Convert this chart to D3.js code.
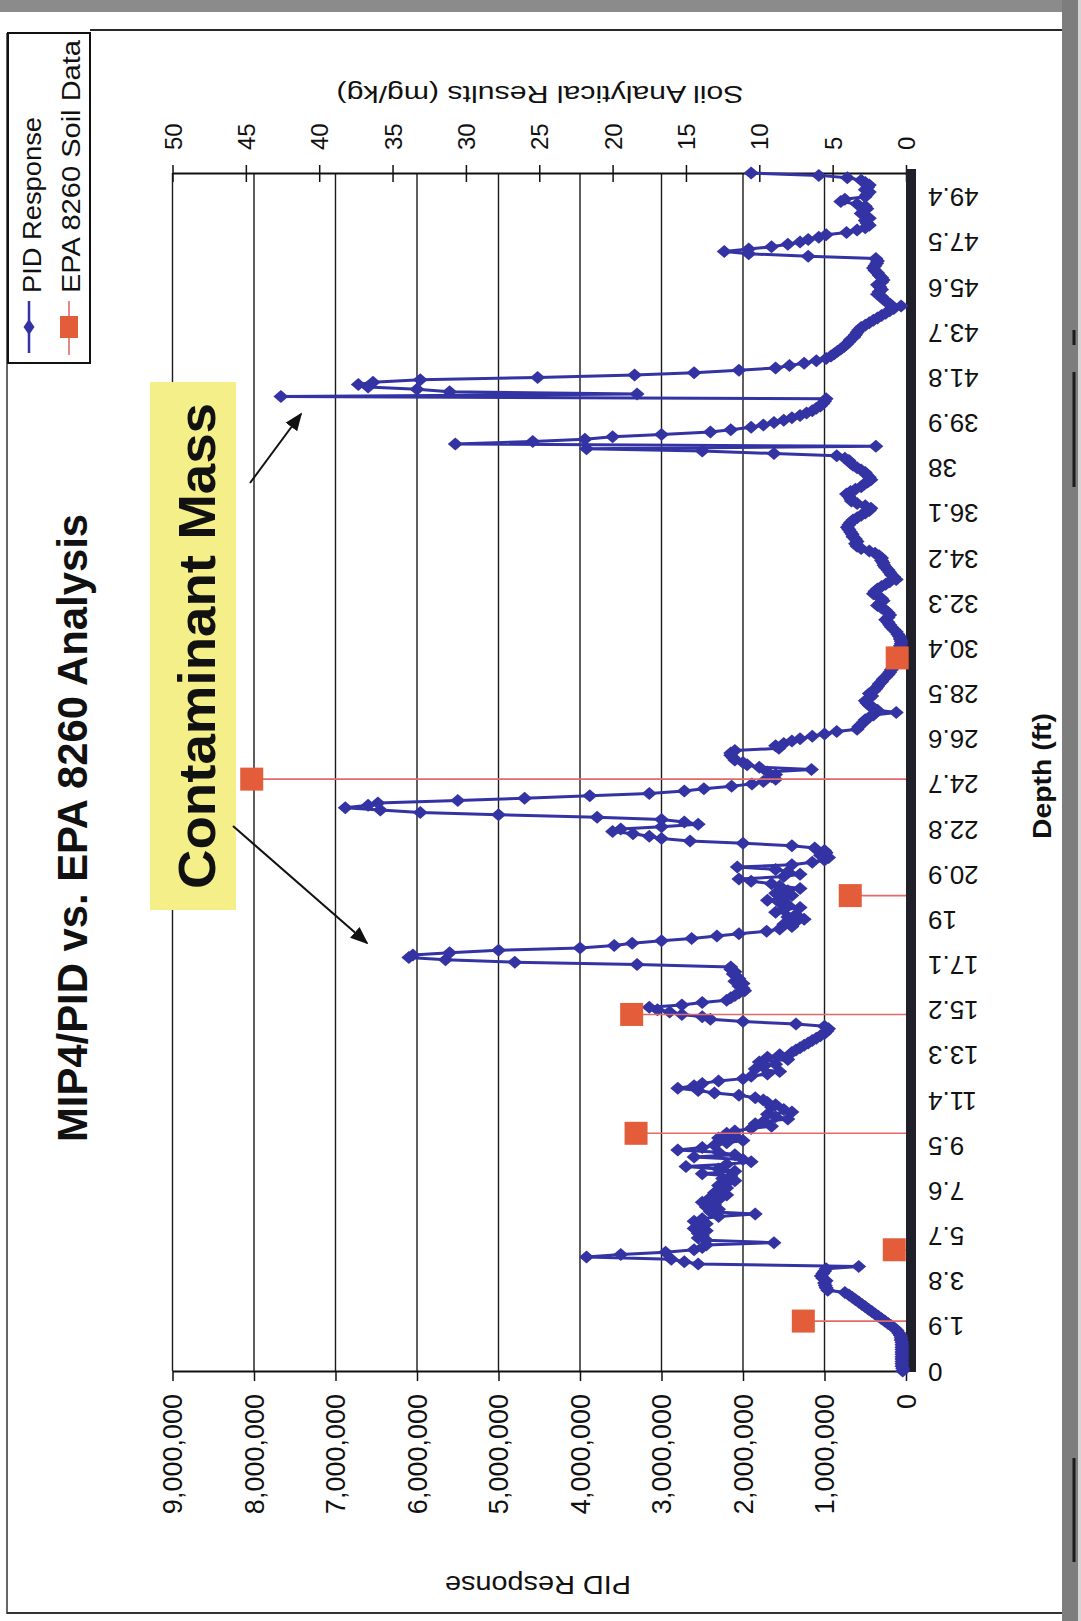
<!DOCTYPE html>
<html>
<head>
<meta charset="utf-8">
<script src="https://cdn.jsdelivr.net/npm/d3@7"></script>
<style>
  html, body { margin: 0; padding: 0; background: #fff; }
  svg { display: block; }
  text { font-family: "Liberation Sans", Arial, Helvetica, sans-serif; fill: #111; }
</style>
</head>
<body>
<svg id="chart" width="1081" height="1621"></svg>
<script>
// PID response (millions of counts), one row per foot of depth, readings every 0.1 ft
const pidRows = [
  [0.04,0.04,0.05,0.05,0.05,0.05,0.05,0.05,0.05,0.05], // 0 ft
  [0.05,0.05,0.05,0.06,0.06,0.07,0.09,0.11,0.14,0.18], // 1
  [0.22,0.26,0.30,0.34,0.38,0.42,0.46,0.50,0.54,0.58], // 2
  [0.62,0.66,0.70,0.75,0.96,0.98,0.99,1.00,0.98,1.02], // 3
  [1.04,1.02,1.00,0.98,0.58,2.55,2.72,2.88,3.92,3.50], // 4
  [2.95,2.60,2.50,2.45,1.62,2.45,2.55,2.50,2.55,2.45], // 5
  [2.60,2.55,2.45,2.60,2.50,2.30,1.85,2.40,2.30,2.45], // 6
  [2.35,2.50,2.30,2.40,2.20,2.35,2.25,2.20,2.30,2.20], // 7
  [2.10,2.25,2.15,2.50,2.10,2.30,2.70,2.20,1.90,2.00], // 8
  [2.60,2.10,2.30,2.80,2.50,2.35,2.20,2.00,2.30,2.10], // 9
  [2.20,2.10,1.90,1.65,1.85,1.75,1.45,1.60,1.70,1.40], // 10
  [1.50,1.65,1.60,1.70,1.75,1.85,2.05,2.35,2.55,2.80], // 11
  [2.60,2.50,2.30,2.00,1.90,1.70,1.55,1.85,1.75,1.60], // 12
  [1.80,1.45,1.70,1.55,1.40,1.35,1.30,1.25,1.20,1.15], // 13
  [1.10,1.05,1.00,0.97,0.95,1.00,1.35,2.00,2.40,2.50], // 14
  [2.75,2.90,3.05,3.15,2.75,2.50,2.20,2.15,2.10,2.05], // 15
  [1.98,2.00,2.05,2.00,2.10,2.05,2.08,2.12,2.10,2.15], // 16
  [2.15,3.30,4.80,5.65,6.10,6.05,5.60,5.00,4.00,3.58], // 17
  [3.36,3.00,2.63,2.32,2.05,1.71,1.55,1.40,1.50,1.35], // 18
  [1.25,1.45,1.35,1.60,1.50,1.30,1.45,1.55,1.70,1.50], // 19
  [1.40,1.60,1.45,1.30,1.55,1.65,1.90,2.05,1.50,1.30], // 20
  [1.45,1.60,2.07,1.40,1.15,1.00,0.95,1.05,0.98,1.00], // 21
  [1.12,1.40,2.00,2.65,3.00,3.15,3.35,3.60,3.50,3.00], // 22
  [2.55,2.72,3.00,3.79,5.00,5.96,6.45,6.88,6.60,6.48], // 23
  [5.50,4.68,3.88,3.15,2.72,2.48,2.14,1.89,1.75,1.60], // 24
  [1.65,1.60,1.70,1.16,1.80,1.95,2.00,2.10,2.12,2.15], // 25
  [2.15,2.10,1.56,1.60,1.50,1.40,1.30,1.15,1.00,0.85], // 26
  [0.60,0.58,0.55,0.52,0.50,0.45,0.40,0.12,0.35,0.40], // 27
  [0.45,0.48,0.50,0.45,0.42,0.45,0.40,0.37,0.35,0.33], // 28
  [0.30,0.28,0.25,0.22,0.20,0.18,0.16,0.14,0.15,0.12], // 29
  [0.10,0.10,0.08,0.07,0.08,0.07,0.06,0.06,0.07,0.08], // 30
  [0.10,0.12,0.15,0.18,0.20,0.22,0.25,0.22,0.20,0.22], // 31
  [0.25,0.30,0.35,0.32,0.28,0.30,0.35,0.40,0.38,0.35], // 32
  [0.30,0.25,0.20,0.12,0.15,0.18,0.20,0.22,0.25,0.27], // 33
  [0.28,0.30,0.30,0.33,0.38,0.45,0.55,0.60,0.62,0.60], // 34
  [0.62,0.65,0.66,0.68,0.70,0.72,0.70,0.68,0.65,0.60], // 35
  [0.55,0.50,0.45,0.43,0.50,0.60,0.67,0.68,0.70,0.73], // 36
  [0.68,0.62,0.55,0.52,0.47,0.43,0.45,0.48,0.50,0.55], // 37
  [0.60,0.65,0.68,0.70,0.75,0.85,1.62,2.50,3.92,0.37], // 38
  [5.53,4.58,3.94,3.60,3.00,2.40,2.15,1.90,1.75,1.62], // 39
  [1.50,1.40,1.30,1.22,1.15,1.10,1.05,1.02,1.00,0.98], // 40
  [7.67,3.30,5.60,6.00,6.60,6.72,6.54,5.96,4.52,3.33], // 41
  [2.60,2.05,1.60,1.43,1.25,1.10,0.98,0.92,0.88,0.84], // 42
  [0.80,0.76,0.73,0.70,0.68,0.64,0.62,0.60,0.58,0.55], // 43
  [0.50,0.45,0.40,0.35,0.30,0.25,0.20,0.15,0.06,0.20], // 44
  [0.25,0.28,0.30,0.35,0.33,0.30,0.32,0.35,0.30,0.28], // 45
  [0.30,0.33,0.35,0.38,0.40,0.38,0.36,0.35,0.37,1.20], // 46
  [1.93,2.23,1.93,1.65,1.45,1.30,1.20,1.07,0.98,0.73], // 47
  [0.60,0.50,0.45,0.48,0.50,0.45,0.50,0.55,0.52,0.48], // 48
  [0.50,0.60,0.80,0.75,0.50,0.48,0.45,0.50,0.47,0.45], // 49
  [0.50,0.55,0.72,1.07,1.90]                           // 50
];

// EPA 8260 soil samples: depth (ft) and result (mg/kg)
const soilDepths = [2.1, 5.1, 10, 15, 20, 24.9, 30];
const soilValues = [7.0, 0.8, 18.4, 18.7, 3.8, 44.6, 0.6];

// axis ticks
const pidTicks = [0, 1e6, 2e6, 3e6, 4e6, 5e6, 6e6, 7e6, 8e6, 9e6];
const soilTicks = [0, 5, 10, 15, 20, 25, 30, 35, 40, 45, 50];
const depthTicks = [0, 1.9, 3.8, 5.7, 7.6, 9.5, 11.4, 13.3, 15.2, 17.1, 19, 20.9, 22.8,
  24.7, 26.6, 28.5, 30.4, 32.3, 34.2, 36.1, 38, 39.9, 41.8, 43.7, 45.6, 47.5, 49.4];

const pidData = pidRows.flatMap((row, ft) =>
  row.map((v, j) => ({ depth: +(ft + j / 10).toFixed(1), value: v * 1e6 })));
const soilData = soilDepths.map((d, i) => ({ depth: d, value: soilValues[i] }));

const svg = d3.select("#chart");
const BLUE = "#3333a4", RED = "#e35d3a", REDLINE = "#e26a6a";

// plot frame (chart is laid out with depth running up the page)
const plot = { left: 172.5, right: 906, top: 173, bottom: 1371 };
const x = d3.scaleLinear().domain([0, 9e6]).range([plot.right, plot.left]);
const xs = d3.scaleLinear().domain([0, 50]).range([plot.right, plot.left]);
const y = d3.scaleLinear().domain([0, 50.4]).range([plot.bottom, plot.top]);

// page edge / border
svg.append("rect").attr("x", 0).attr("y", 0).attr("width", 1081).attr("height", 12).attr("fill", "#8b8b8b");
svg.append("rect").attr("x", 1062).attr("y", 0).attr("width", 16).attr("height", 1621).attr("fill", "#7d7d7d");
svg.append("rect").attr("x", 1078).attr("y", 0).attr("width", 3).attr("height", 1621).attr("fill", "#d4d4d4");
svg.append("line").attr("x1", 1074).attr("x2", 1074).attr("y1", 330).attr("y2", 345).attr("stroke", "#1c1c1c").attr("stroke-width", 3);
svg.append("line").attr("x1", 1074).attr("x2", 1074).attr("y1", 372).attr("y2", 487).attr("stroke", "#1c1c1c").attr("stroke-width", 3);
svg.append("line").attr("x1", 1074).attr("x2", 1074).attr("y1", 1458).attr("y2", 1562).attr("stroke", "#1c1c1c").attr("stroke-width", 3);
svg.append("line").attr("x1", 90).attr("x2", 1062).attr("y1", 30).attr("y2", 30).attr("stroke", "#2a2a2a").attr("stroke-width", 2);
svg.append("line").attr("x1", 7).attr("x2", 7).attr("y1", 33).attr("y2", 1614).attr("stroke", "#333").attr("stroke-width", 1.5);
svg.append("line").attr("x1", 7).attr("x2", 1062).attr("y1", 1613).attr("y2", 1613).attr("stroke", "#333").attr("stroke-width", 2);

// gridlines at each PID major tick
svg.append("g").selectAll("line").data(pidTicks.filter(t => t > 0)).join("line")
  .attr("x1", d => x(d)).attr("x2", d => x(d))
  .attr("y1", plot.top).attr("y2", plot.bottom)
  .attr("stroke", "#1a1a1a").attr("stroke-width", 1.4);

// PID axis (bottom)
const pidAxis = svg.append("g").attr("transform", `translate(0,${plot.bottom})`)
  .call(d3.axisBottom(x).tickValues(pidTicks).tickSize(10).tickSizeOuter(0).tickFormat(d3.format(",")));
pidAxis.select(".domain").attr("stroke", "#111").attr("stroke-width", 2);
pidAxis.selectAll(".tick line").attr("stroke", "#111").attr("stroke-width", 1.5);
pidAxis.selectAll(".tick text")
  .attr("x", 0).attr("y", 0).attr("dy", null)
  .attr("transform", "translate(0,23) rotate(-90)")
  .attr("text-anchor", "end").attr("dominant-baseline", "central")
  .style("font-size", "27px").style("font-family", null);

// soil axis (top)
const soilAxis = svg.append("g").attr("transform", `translate(0,${plot.top})`)
  .call(d3.axisTop(xs).tickValues(soilTicks).tickSize(8).tickSizeOuter(0));
soilAxis.select(".domain").attr("stroke", "#111").attr("stroke-width", 2);
soilAxis.selectAll(".tick line").attr("y1", 9).attr("y2", -8).attr("stroke", "#111").attr("stroke-width", 1.5);
soilAxis.selectAll(".tick text")
  .attr("x", 0).attr("y", 0).attr("dy", null)
  .attr("transform", "translate(0,-23) rotate(-90)")
  .attr("text-anchor", "start").attr("dominant-baseline", "central")
  .style("font-size", "24px").style("font-family", null);

// depth axis (right)
const depthAxis = svg.append("g").attr("transform", `translate(${plot.right},0)`)
  .call(d3.axisRight(y).tickValues(depthTicks).tickSize(0).tickSizeOuter(0).tickFormat(d => String(d)));
depthAxis.select(".domain").remove();
depthAxis.selectAll(".tick text")
  .attr("x", 0).attr("y", 0).attr("dy", null)
  .attr("transform", "translate(22,0) rotate(180)")
  .attr("text-anchor", "end").attr("dominant-baseline", "central")
  .style("font-size", "26px").style("font-family", null);
svg.append("rect").attr("x", plot.right).attr("y", 169).attr("width", 10).attr("height", 1203).attr("fill", "#20202b");

// PID response series
const diamond = "M0,-6.5L7.5,0L0,6.5L-7.5,0Z";
svg.append("path").datum(pidData)
  .attr("fill", "none").attr("stroke", BLUE).attr("stroke-width", 3).attr("stroke-linejoin", "round")
  .attr("d", d3.line().x(d => x(d.value)).y(d => y(d.depth)));
svg.append("g").selectAll("path").data(pidData).join("path")
  .attr("d", diamond).attr("fill", BLUE)
  .attr("transform", d => `translate(${x(d.value)},${y(d.depth)})`);

// EPA 8260 soil data: drop line to zero and square marker
const soilG = svg.append("g");
soilG.selectAll("line").data(soilData).join("line")
  .attr("x1", d => xs(d.value)).attr("x2", xs(0))
  .attr("y1", d => y(d.depth)).attr("y2", d => y(d.depth))
  .attr("stroke", REDLINE).attr("stroke-width", 1.6);
soilG.selectAll("rect").data(soilData).join("rect")
  .attr("x", d => xs(d.value) - 11.5).attr("y", d => y(d.depth) - 11.5)
  .attr("width", 23).attr("height", 23).attr("fill", RED);

// axis titles
svg.append("text").attr("transform", "translate(540,94) rotate(180)")
  .attr("text-anchor", "middle").attr("dominant-baseline", "central")
  .attr("textLength", 407).attr("lengthAdjust", "spacingAndGlyphs")
  .style("font-size", "24px").text("Soil Analytical Results (mg/kg)");
svg.append("text").attr("transform", "translate(538,1585) rotate(180)")
  .attr("text-anchor", "middle").attr("dominant-baseline", "central")
  .attr("textLength", 186).attr("lengthAdjust", "spacingAndGlyphs")
  .style("font-size", "26px").text("PID Response");
svg.append("text").attr("transform", "translate(1042,776) rotate(-90)")
  .attr("text-anchor", "middle").attr("dominant-baseline", "central")
  .attr("textLength", 126).attr("lengthAdjust", "spacingAndGlyphs")
  .style("font-size", "25px").style("font-weight", "bold").text("Depth (ft)");

// chart title
svg.append("text").attr("transform", "translate(72,828) rotate(-90)")
  .attr("text-anchor", "middle").attr("dominant-baseline", "central")
  .attr("textLength", 628).attr("lengthAdjust", "spacingAndGlyphs")
  .style("font-size", "42px").style("font-weight", "bold").text("MIP4/PID vs. EPA 8260 Analysis");

// callout
svg.append("rect").attr("x", 150).attr("y", 382).attr("width", 86).attr("height", 528).attr("fill", "#f4ef88");
svg.append("text").attr("transform", "translate(197,646) rotate(-90)")
  .attr("text-anchor", "middle").attr("dominant-baseline", "central")
  .attr("textLength", 486).attr("lengthAdjust", "spacingAndGlyphs")
  .style("font-size", "52px").style("font-weight", "bold").text("Contaminant Mass");
svg.append("defs").append("marker").attr("id", "arrow")
  .attr("viewBox", "0 0 10 10").attr("refX", 9).attr("refY", 5)
  .attr("markerWidth", 9).attr("markerHeight", 9).attr("orient", "auto")
  .append("path").attr("d", "M0,1L10,5L0,9Z").attr("fill", "#111");
[[[250, 483], [301, 414]], [[233, 826], [367, 943]]].forEach(([a, b]) => {
  svg.append("line").attr("x1", a[0]).attr("y1", a[1]).attr("x2", b[0]).attr("y2", b[1])
    .attr("stroke", "#111").attr("stroke-width", 2).attr("marker-end", "url(#arrow)");
});

// legend
const lg = svg.append("g");
lg.append("rect").attr("x", 8).attr("y", 33).attr("width", 82).attr("height", 330)
  .attr("fill", "#fff").attr("stroke", "#111").attr("stroke-width", 2);
lg.append("line").attr("x1", 29).attr("x2", 29).attr("y1", 301).attr("y2", 353)
  .attr("stroke", BLUE).attr("stroke-width", 2.5);
lg.append("path").attr("d", "M0,-8L5.5,0L0,8L-5.5,0Z").attr("fill", BLUE)
  .attr("transform", "translate(29,327)");
lg.append("line").attr("x1", 69).attr("x2", 69).attr("y1", 301).attr("y2", 355)
  .attr("stroke", REDLINE).attr("stroke-width", 1.6);
lg.append("rect").attr("x", 60).attr("y", 316).attr("width", 18).attr("height", 22).attr("fill", RED);
lg.append("text").attr("transform", "translate(32,293) rotate(-90)")
  .attr("text-anchor", "start").attr("dominant-baseline", "central")
  .attr("textLength", 176).attr("lengthAdjust", "spacingAndGlyphs")
  .style("font-size", "26px").text("PID Response");
lg.append("text").attr("transform", "translate(71,293) rotate(-90)")
  .attr("text-anchor", "start").attr("dominant-baseline", "central")
  .attr("textLength", 253).attr("lengthAdjust", "spacingAndGlyphs")
  .style("font-size", "26px").text("EPA 8260 Soil Data");
</script>
</body>
</html>
